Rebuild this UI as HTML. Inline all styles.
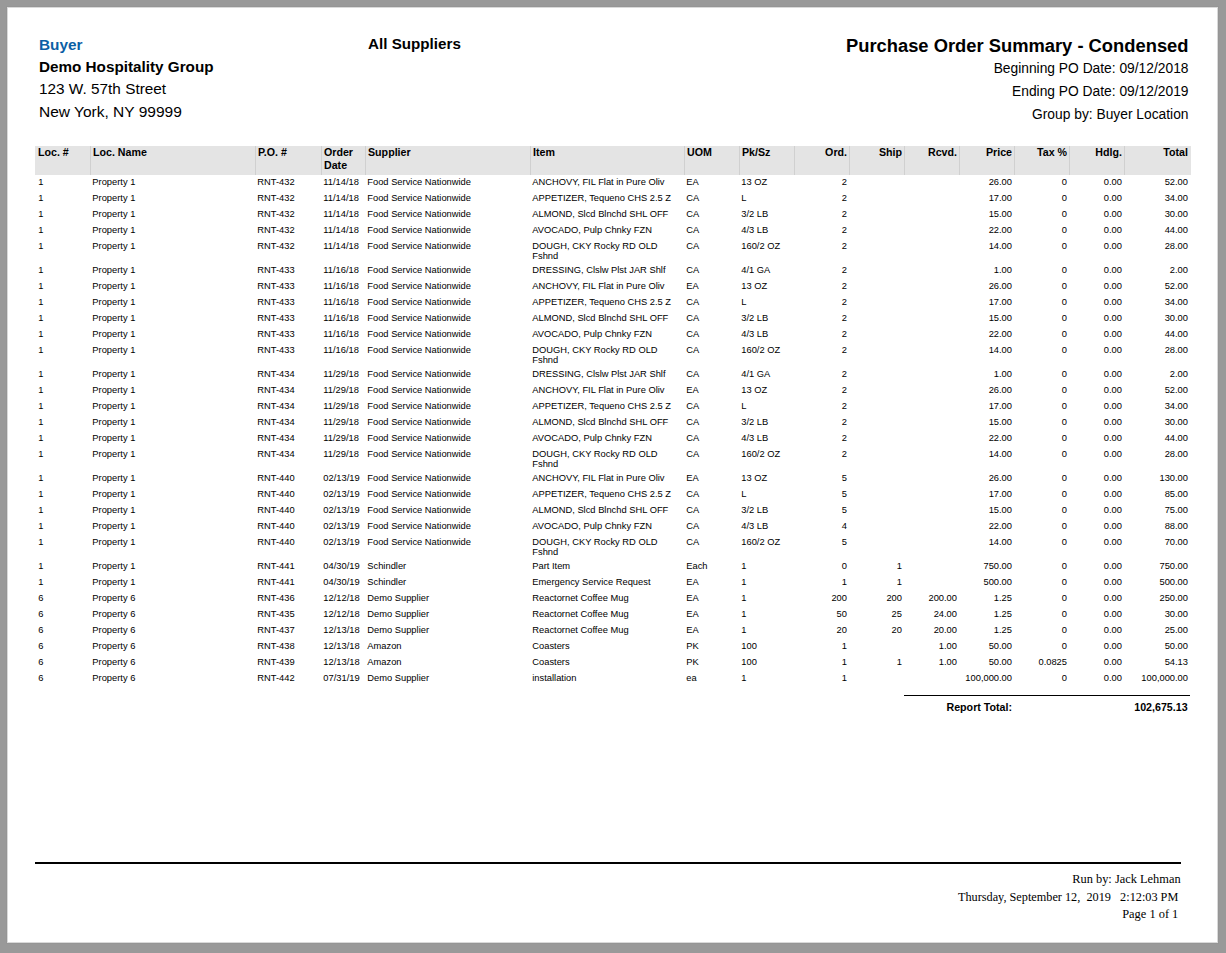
<!DOCTYPE html>
<html><head><meta charset="utf-8"><title>Purchase Order Summary - Condensed</title>
<style>
html,body{margin:0;padding:0;}
body{width:1226px;height:953px;background:#999999;position:relative;overflow:hidden;font-family:"Liberation Sans", sans-serif;color:#000;}
#fr1{position:absolute;left:6px;top:6px;width:1213px;height:938px;background:#959595;}
#fr2{position:absolute;left:7px;top:7px;width:1211px;height:936px;background:#d9d9d9;}
#page{position:absolute;left:8px;top:8px;width:1209px;height:934px;background:#fff;}
.t{position:absolute;white-space:nowrap;}
.f{font-family:"Liberation Serif", serif;}
.r{position:absolute;}
</style></head><body>
<div id="fr1"></div><div id="fr2"></div><div id="page"></div>
<div class="t" style="top:35.68px;font-size:15.35px;line-height:18px;font-weight:bold;color:#0b5fa5;left:39.00px;">Buyer</div>
<div class="t" style="top:57.72px;font-size:15.25px;line-height:18px;font-weight:bold;left:39.00px;">Demo Hospitality Group</div>
<div class="t" style="top:79.68px;font-size:15.35px;line-height:18px;left:39.00px;">123 W. 57th Street</div>
<div class="t" style="top:102.13px;font-size:15.5px;line-height:19px;left:39.00px;">New York, NY 99999</div>
<div class="t" style="top:34.73px;font-size:15.2px;line-height:18px;font-weight:bold;left:368.00px;">All Suppliers</div>
<div class="t" style="top:34.64px;font-size:18.35px;line-height:22px;font-weight:bold;right:37.50px;text-align:right;">Purchase Order Summary - Condensed</div>
<div class="t" style="top:59.72px;font-size:13.8px;line-height:17px;right:37.50px;text-align:right;">Beginning PO Date: 09/12/2018</div>
<div class="t" style="top:82.72px;font-size:13.8px;line-height:17px;right:37.50px;text-align:right;">Ending PO Date: 09/12/2019</div>
<div class="t" style="top:105.72px;font-size:13.8px;line-height:17px;right:37.50px;text-align:right;">Group by: Buyer Location</div>
<div class="r" style="left:35px;top:146px;width:1156px;height:29px;background:#e4e4e4"></div>
<div class="r" style="left:90px;top:146px;width:1px;height:29px;background:#d0d0d0"></div>
<div class="r" style="left:255px;top:146px;width:1px;height:29px;background:#d0d0d0"></div>
<div class="r" style="left:321px;top:146px;width:1px;height:29px;background:#d0d0d0"></div>
<div class="r" style="left:365px;top:146px;width:1px;height:29px;background:#d0d0d0"></div>
<div class="r" style="left:530px;top:146px;width:1px;height:29px;background:#d0d0d0"></div>
<div class="r" style="left:684px;top:146px;width:1px;height:29px;background:#d0d0d0"></div>
<div class="r" style="left:739px;top:146px;width:1px;height:29px;background:#d0d0d0"></div>
<div class="r" style="left:794px;top:146px;width:1px;height:29px;background:#d0d0d0"></div>
<div class="r" style="left:849px;top:146px;width:1px;height:29px;background:#d0d0d0"></div>
<div class="r" style="left:904px;top:146px;width:1px;height:29px;background:#d0d0d0"></div>
<div class="r" style="left:959px;top:146px;width:1px;height:29px;background:#d0d0d0"></div>
<div class="r" style="left:1014px;top:146px;width:1px;height:29px;background:#d0d0d0"></div>
<div class="r" style="left:1069px;top:146px;width:1px;height:29px;background:#d0d0d0"></div>
<div class="r" style="left:1124px;top:146px;width:1px;height:29px;background:#d0d0d0"></div>
<div class="t h" style="top:145.80px;font-size:10.67px;line-height:13px;font-weight:bold;left:38.00px;">Loc. #</div>
<div class="t h" style="top:145.80px;font-size:10.67px;line-height:13px;font-weight:bold;left:93.00px;">Loc. Name</div>
<div class="t h" style="top:145.80px;font-size:10.67px;line-height:13px;font-weight:bold;left:258.00px;">P.O. #</div>
<div class="t h" style="top:145.80px;font-size:10.67px;line-height:13px;font-weight:bold;left:324.00px;">Order</div>
<div class="t h" style="top:158.80px;font-size:10.67px;line-height:13px;font-weight:bold;left:324.00px;">Date</div>
<div class="t h" style="top:145.80px;font-size:10.67px;line-height:13px;font-weight:bold;left:368.00px;">Supplier</div>
<div class="t h" style="top:145.80px;font-size:10.67px;line-height:13px;font-weight:bold;left:533.00px;">Item</div>
<div class="t h" style="top:145.80px;font-size:10.67px;line-height:13px;font-weight:bold;left:687.00px;">UOM</div>
<div class="t h" style="top:145.80px;font-size:10.67px;line-height:13px;font-weight:bold;left:742.00px;">Pk/Sz</div>
<div class="t h" style="top:145.80px;font-size:10.67px;line-height:13px;font-weight:bold;right:379.00px;text-align:right;">Ord.</div>
<div class="t h" style="top:145.80px;font-size:10.67px;line-height:13px;font-weight:bold;right:324.00px;text-align:right;">Ship</div>
<div class="t h" style="top:145.80px;font-size:10.67px;line-height:13px;font-weight:bold;right:269.00px;text-align:right;">Rcvd.</div>
<div class="t h" style="top:145.80px;font-size:10.67px;line-height:13px;font-weight:bold;right:214.00px;text-align:right;">Price</div>
<div class="t h" style="top:145.80px;font-size:10.67px;line-height:13px;font-weight:bold;right:159.00px;text-align:right;">Tax %</div>
<div class="t h" style="top:145.80px;font-size:10.67px;line-height:13px;font-weight:bold;right:104.00px;text-align:right;">Hdlg.</div>
<div class="t h" style="top:145.80px;font-size:10.67px;line-height:13px;font-weight:bold;right:38.00px;text-align:right;">Total</div>
<div class="t d" style="top:177.27px;font-size:9.33px;line-height:11px;left:38.30px;">1</div>
<div class="t d" style="top:177.27px;font-size:9.33px;line-height:11px;left:92.30px;">Property 1</div>
<div class="t d" style="top:177.27px;font-size:9.33px;line-height:11px;left:257.30px;">RNT-432</div>
<div class="t d" style="top:177.27px;font-size:9.33px;line-height:11px;left:323.30px;">11/14/18</div>
<div class="t d" style="top:177.27px;font-size:9.33px;line-height:11px;left:367.30px;">Food Service Nationwide</div>
<div class="t d" style="top:177.27px;font-size:9.33px;line-height:11px;left:532.30px;">ANCHOVY, FIL Flat in Pure Oliv</div>
<div class="t d" style="top:177.27px;font-size:9.33px;line-height:11px;left:686.30px;">EA</div>
<div class="t d" style="top:177.27px;font-size:9.33px;line-height:11px;left:741.30px;">13 OZ</div>
<div class="t d" style="top:177.27px;font-size:9.33px;line-height:11px;right:379.00px;text-align:right;">2</div>
<div class="t d" style="top:177.27px;font-size:9.33px;line-height:11px;right:214.00px;text-align:right;">26.00</div>
<div class="t d" style="top:177.27px;font-size:9.33px;line-height:11px;right:159.00px;text-align:right;">0</div>
<div class="t d" style="top:177.27px;font-size:9.33px;line-height:11px;right:104.00px;text-align:right;">0.00</div>
<div class="t d" style="top:177.27px;font-size:9.33px;line-height:11px;right:38.00px;text-align:right;">52.00</div>
<div class="t d" style="top:193.27px;font-size:9.33px;line-height:11px;left:38.30px;">1</div>
<div class="t d" style="top:193.27px;font-size:9.33px;line-height:11px;left:92.30px;">Property 1</div>
<div class="t d" style="top:193.27px;font-size:9.33px;line-height:11px;left:257.30px;">RNT-432</div>
<div class="t d" style="top:193.27px;font-size:9.33px;line-height:11px;left:323.30px;">11/14/18</div>
<div class="t d" style="top:193.27px;font-size:9.33px;line-height:11px;left:367.30px;">Food Service Nationwide</div>
<div class="t d" style="top:193.27px;font-size:9.33px;line-height:11px;left:532.30px;">APPETIZER, Tequeno CHS 2.5 Z</div>
<div class="t d" style="top:193.27px;font-size:9.33px;line-height:11px;left:686.30px;">CA</div>
<div class="t d" style="top:193.27px;font-size:9.33px;line-height:11px;left:741.30px;">L</div>
<div class="t d" style="top:193.27px;font-size:9.33px;line-height:11px;right:379.00px;text-align:right;">2</div>
<div class="t d" style="top:193.27px;font-size:9.33px;line-height:11px;right:214.00px;text-align:right;">17.00</div>
<div class="t d" style="top:193.27px;font-size:9.33px;line-height:11px;right:159.00px;text-align:right;">0</div>
<div class="t d" style="top:193.27px;font-size:9.33px;line-height:11px;right:104.00px;text-align:right;">0.00</div>
<div class="t d" style="top:193.27px;font-size:9.33px;line-height:11px;right:38.00px;text-align:right;">34.00</div>
<div class="t d" style="top:209.27px;font-size:9.33px;line-height:11px;left:38.30px;">1</div>
<div class="t d" style="top:209.27px;font-size:9.33px;line-height:11px;left:92.30px;">Property 1</div>
<div class="t d" style="top:209.27px;font-size:9.33px;line-height:11px;left:257.30px;">RNT-432</div>
<div class="t d" style="top:209.27px;font-size:9.33px;line-height:11px;left:323.30px;">11/14/18</div>
<div class="t d" style="top:209.27px;font-size:9.33px;line-height:11px;left:367.30px;">Food Service Nationwide</div>
<div class="t d" style="top:209.27px;font-size:9.33px;line-height:11px;left:532.30px;">ALMOND, Slcd Blnchd SHL OFF</div>
<div class="t d" style="top:209.27px;font-size:9.33px;line-height:11px;left:686.30px;">CA</div>
<div class="t d" style="top:209.27px;font-size:9.33px;line-height:11px;left:741.30px;">3/2 LB</div>
<div class="t d" style="top:209.27px;font-size:9.33px;line-height:11px;right:379.00px;text-align:right;">2</div>
<div class="t d" style="top:209.27px;font-size:9.33px;line-height:11px;right:214.00px;text-align:right;">15.00</div>
<div class="t d" style="top:209.27px;font-size:9.33px;line-height:11px;right:159.00px;text-align:right;">0</div>
<div class="t d" style="top:209.27px;font-size:9.33px;line-height:11px;right:104.00px;text-align:right;">0.00</div>
<div class="t d" style="top:209.27px;font-size:9.33px;line-height:11px;right:38.00px;text-align:right;">30.00</div>
<div class="t d" style="top:225.27px;font-size:9.33px;line-height:11px;left:38.30px;">1</div>
<div class="t d" style="top:225.27px;font-size:9.33px;line-height:11px;left:92.30px;">Property 1</div>
<div class="t d" style="top:225.27px;font-size:9.33px;line-height:11px;left:257.30px;">RNT-432</div>
<div class="t d" style="top:225.27px;font-size:9.33px;line-height:11px;left:323.30px;">11/14/18</div>
<div class="t d" style="top:225.27px;font-size:9.33px;line-height:11px;left:367.30px;">Food Service Nationwide</div>
<div class="t d" style="top:225.27px;font-size:9.33px;line-height:11px;left:532.30px;">AVOCADO, Pulp Chnky FZN</div>
<div class="t d" style="top:225.27px;font-size:9.33px;line-height:11px;left:686.30px;">CA</div>
<div class="t d" style="top:225.27px;font-size:9.33px;line-height:11px;left:741.30px;">4/3 LB</div>
<div class="t d" style="top:225.27px;font-size:9.33px;line-height:11px;right:379.00px;text-align:right;">2</div>
<div class="t d" style="top:225.27px;font-size:9.33px;line-height:11px;right:214.00px;text-align:right;">22.00</div>
<div class="t d" style="top:225.27px;font-size:9.33px;line-height:11px;right:159.00px;text-align:right;">0</div>
<div class="t d" style="top:225.27px;font-size:9.33px;line-height:11px;right:104.00px;text-align:right;">0.00</div>
<div class="t d" style="top:225.27px;font-size:9.33px;line-height:11px;right:38.00px;text-align:right;">44.00</div>
<div class="t d" style="top:241.27px;font-size:9.33px;line-height:11px;left:38.30px;">1</div>
<div class="t d" style="top:241.27px;font-size:9.33px;line-height:11px;left:92.30px;">Property 1</div>
<div class="t d" style="top:241.27px;font-size:9.33px;line-height:11px;left:257.30px;">RNT-432</div>
<div class="t d" style="top:241.27px;font-size:9.33px;line-height:11px;left:323.30px;">11/14/18</div>
<div class="t d" style="top:241.27px;font-size:9.33px;line-height:11px;left:367.30px;">Food Service Nationwide</div>
<div class="t d" style="top:241.27px;font-size:9.33px;line-height:11px;left:532.30px;">DOUGH, CKY Rocky RD OLD</div>
<div class="t d" style="top:251.27px;font-size:9.33px;line-height:11px;left:532.30px;">Fshnd</div>
<div class="t d" style="top:241.27px;font-size:9.33px;line-height:11px;left:686.30px;">CA</div>
<div class="t d" style="top:241.27px;font-size:9.33px;line-height:11px;left:741.30px;">160/2 OZ</div>
<div class="t d" style="top:241.27px;font-size:9.33px;line-height:11px;right:379.00px;text-align:right;">2</div>
<div class="t d" style="top:241.27px;font-size:9.33px;line-height:11px;right:214.00px;text-align:right;">14.00</div>
<div class="t d" style="top:241.27px;font-size:9.33px;line-height:11px;right:159.00px;text-align:right;">0</div>
<div class="t d" style="top:241.27px;font-size:9.33px;line-height:11px;right:104.00px;text-align:right;">0.00</div>
<div class="t d" style="top:241.27px;font-size:9.33px;line-height:11px;right:38.00px;text-align:right;">28.00</div>
<div class="t d" style="top:265.27px;font-size:9.33px;line-height:11px;left:38.30px;">1</div>
<div class="t d" style="top:265.27px;font-size:9.33px;line-height:11px;left:92.30px;">Property 1</div>
<div class="t d" style="top:265.27px;font-size:9.33px;line-height:11px;left:257.30px;">RNT-433</div>
<div class="t d" style="top:265.27px;font-size:9.33px;line-height:11px;left:323.30px;">11/16/18</div>
<div class="t d" style="top:265.27px;font-size:9.33px;line-height:11px;left:367.30px;">Food Service Nationwide</div>
<div class="t d" style="top:265.27px;font-size:9.33px;line-height:11px;left:532.30px;">DRESSING, Clslw Plst JAR Shlf</div>
<div class="t d" style="top:265.27px;font-size:9.33px;line-height:11px;left:686.30px;">CA</div>
<div class="t d" style="top:265.27px;font-size:9.33px;line-height:11px;left:741.30px;">4/1 GA</div>
<div class="t d" style="top:265.27px;font-size:9.33px;line-height:11px;right:379.00px;text-align:right;">2</div>
<div class="t d" style="top:265.27px;font-size:9.33px;line-height:11px;right:214.00px;text-align:right;">1.00</div>
<div class="t d" style="top:265.27px;font-size:9.33px;line-height:11px;right:159.00px;text-align:right;">0</div>
<div class="t d" style="top:265.27px;font-size:9.33px;line-height:11px;right:104.00px;text-align:right;">0.00</div>
<div class="t d" style="top:265.27px;font-size:9.33px;line-height:11px;right:38.00px;text-align:right;">2.00</div>
<div class="t d" style="top:281.27px;font-size:9.33px;line-height:11px;left:38.30px;">1</div>
<div class="t d" style="top:281.27px;font-size:9.33px;line-height:11px;left:92.30px;">Property 1</div>
<div class="t d" style="top:281.27px;font-size:9.33px;line-height:11px;left:257.30px;">RNT-433</div>
<div class="t d" style="top:281.27px;font-size:9.33px;line-height:11px;left:323.30px;">11/16/18</div>
<div class="t d" style="top:281.27px;font-size:9.33px;line-height:11px;left:367.30px;">Food Service Nationwide</div>
<div class="t d" style="top:281.27px;font-size:9.33px;line-height:11px;left:532.30px;">ANCHOVY, FIL Flat in Pure Oliv</div>
<div class="t d" style="top:281.27px;font-size:9.33px;line-height:11px;left:686.30px;">EA</div>
<div class="t d" style="top:281.27px;font-size:9.33px;line-height:11px;left:741.30px;">13 OZ</div>
<div class="t d" style="top:281.27px;font-size:9.33px;line-height:11px;right:379.00px;text-align:right;">2</div>
<div class="t d" style="top:281.27px;font-size:9.33px;line-height:11px;right:214.00px;text-align:right;">26.00</div>
<div class="t d" style="top:281.27px;font-size:9.33px;line-height:11px;right:159.00px;text-align:right;">0</div>
<div class="t d" style="top:281.27px;font-size:9.33px;line-height:11px;right:104.00px;text-align:right;">0.00</div>
<div class="t d" style="top:281.27px;font-size:9.33px;line-height:11px;right:38.00px;text-align:right;">52.00</div>
<div class="t d" style="top:297.27px;font-size:9.33px;line-height:11px;left:38.30px;">1</div>
<div class="t d" style="top:297.27px;font-size:9.33px;line-height:11px;left:92.30px;">Property 1</div>
<div class="t d" style="top:297.27px;font-size:9.33px;line-height:11px;left:257.30px;">RNT-433</div>
<div class="t d" style="top:297.27px;font-size:9.33px;line-height:11px;left:323.30px;">11/16/18</div>
<div class="t d" style="top:297.27px;font-size:9.33px;line-height:11px;left:367.30px;">Food Service Nationwide</div>
<div class="t d" style="top:297.27px;font-size:9.33px;line-height:11px;left:532.30px;">APPETIZER, Tequeno CHS 2.5 Z</div>
<div class="t d" style="top:297.27px;font-size:9.33px;line-height:11px;left:686.30px;">CA</div>
<div class="t d" style="top:297.27px;font-size:9.33px;line-height:11px;left:741.30px;">L</div>
<div class="t d" style="top:297.27px;font-size:9.33px;line-height:11px;right:379.00px;text-align:right;">2</div>
<div class="t d" style="top:297.27px;font-size:9.33px;line-height:11px;right:214.00px;text-align:right;">17.00</div>
<div class="t d" style="top:297.27px;font-size:9.33px;line-height:11px;right:159.00px;text-align:right;">0</div>
<div class="t d" style="top:297.27px;font-size:9.33px;line-height:11px;right:104.00px;text-align:right;">0.00</div>
<div class="t d" style="top:297.27px;font-size:9.33px;line-height:11px;right:38.00px;text-align:right;">34.00</div>
<div class="t d" style="top:313.27px;font-size:9.33px;line-height:11px;left:38.30px;">1</div>
<div class="t d" style="top:313.27px;font-size:9.33px;line-height:11px;left:92.30px;">Property 1</div>
<div class="t d" style="top:313.27px;font-size:9.33px;line-height:11px;left:257.30px;">RNT-433</div>
<div class="t d" style="top:313.27px;font-size:9.33px;line-height:11px;left:323.30px;">11/16/18</div>
<div class="t d" style="top:313.27px;font-size:9.33px;line-height:11px;left:367.30px;">Food Service Nationwide</div>
<div class="t d" style="top:313.27px;font-size:9.33px;line-height:11px;left:532.30px;">ALMOND, Slcd Blnchd SHL OFF</div>
<div class="t d" style="top:313.27px;font-size:9.33px;line-height:11px;left:686.30px;">CA</div>
<div class="t d" style="top:313.27px;font-size:9.33px;line-height:11px;left:741.30px;">3/2 LB</div>
<div class="t d" style="top:313.27px;font-size:9.33px;line-height:11px;right:379.00px;text-align:right;">2</div>
<div class="t d" style="top:313.27px;font-size:9.33px;line-height:11px;right:214.00px;text-align:right;">15.00</div>
<div class="t d" style="top:313.27px;font-size:9.33px;line-height:11px;right:159.00px;text-align:right;">0</div>
<div class="t d" style="top:313.27px;font-size:9.33px;line-height:11px;right:104.00px;text-align:right;">0.00</div>
<div class="t d" style="top:313.27px;font-size:9.33px;line-height:11px;right:38.00px;text-align:right;">30.00</div>
<div class="t d" style="top:329.27px;font-size:9.33px;line-height:11px;left:38.30px;">1</div>
<div class="t d" style="top:329.27px;font-size:9.33px;line-height:11px;left:92.30px;">Property 1</div>
<div class="t d" style="top:329.27px;font-size:9.33px;line-height:11px;left:257.30px;">RNT-433</div>
<div class="t d" style="top:329.27px;font-size:9.33px;line-height:11px;left:323.30px;">11/16/18</div>
<div class="t d" style="top:329.27px;font-size:9.33px;line-height:11px;left:367.30px;">Food Service Nationwide</div>
<div class="t d" style="top:329.27px;font-size:9.33px;line-height:11px;left:532.30px;">AVOCADO, Pulp Chnky FZN</div>
<div class="t d" style="top:329.27px;font-size:9.33px;line-height:11px;left:686.30px;">CA</div>
<div class="t d" style="top:329.27px;font-size:9.33px;line-height:11px;left:741.30px;">4/3 LB</div>
<div class="t d" style="top:329.27px;font-size:9.33px;line-height:11px;right:379.00px;text-align:right;">2</div>
<div class="t d" style="top:329.27px;font-size:9.33px;line-height:11px;right:214.00px;text-align:right;">22.00</div>
<div class="t d" style="top:329.27px;font-size:9.33px;line-height:11px;right:159.00px;text-align:right;">0</div>
<div class="t d" style="top:329.27px;font-size:9.33px;line-height:11px;right:104.00px;text-align:right;">0.00</div>
<div class="t d" style="top:329.27px;font-size:9.33px;line-height:11px;right:38.00px;text-align:right;">44.00</div>
<div class="t d" style="top:345.27px;font-size:9.33px;line-height:11px;left:38.30px;">1</div>
<div class="t d" style="top:345.27px;font-size:9.33px;line-height:11px;left:92.30px;">Property 1</div>
<div class="t d" style="top:345.27px;font-size:9.33px;line-height:11px;left:257.30px;">RNT-433</div>
<div class="t d" style="top:345.27px;font-size:9.33px;line-height:11px;left:323.30px;">11/16/18</div>
<div class="t d" style="top:345.27px;font-size:9.33px;line-height:11px;left:367.30px;">Food Service Nationwide</div>
<div class="t d" style="top:345.27px;font-size:9.33px;line-height:11px;left:532.30px;">DOUGH, CKY Rocky RD OLD</div>
<div class="t d" style="top:355.27px;font-size:9.33px;line-height:11px;left:532.30px;">Fshnd</div>
<div class="t d" style="top:345.27px;font-size:9.33px;line-height:11px;left:686.30px;">CA</div>
<div class="t d" style="top:345.27px;font-size:9.33px;line-height:11px;left:741.30px;">160/2 OZ</div>
<div class="t d" style="top:345.27px;font-size:9.33px;line-height:11px;right:379.00px;text-align:right;">2</div>
<div class="t d" style="top:345.27px;font-size:9.33px;line-height:11px;right:214.00px;text-align:right;">14.00</div>
<div class="t d" style="top:345.27px;font-size:9.33px;line-height:11px;right:159.00px;text-align:right;">0</div>
<div class="t d" style="top:345.27px;font-size:9.33px;line-height:11px;right:104.00px;text-align:right;">0.00</div>
<div class="t d" style="top:345.27px;font-size:9.33px;line-height:11px;right:38.00px;text-align:right;">28.00</div>
<div class="t d" style="top:369.27px;font-size:9.33px;line-height:11px;left:38.30px;">1</div>
<div class="t d" style="top:369.27px;font-size:9.33px;line-height:11px;left:92.30px;">Property 1</div>
<div class="t d" style="top:369.27px;font-size:9.33px;line-height:11px;left:257.30px;">RNT-434</div>
<div class="t d" style="top:369.27px;font-size:9.33px;line-height:11px;left:323.30px;">11/29/18</div>
<div class="t d" style="top:369.27px;font-size:9.33px;line-height:11px;left:367.30px;">Food Service Nationwide</div>
<div class="t d" style="top:369.27px;font-size:9.33px;line-height:11px;left:532.30px;">DRESSING, Clslw Plst JAR Shlf</div>
<div class="t d" style="top:369.27px;font-size:9.33px;line-height:11px;left:686.30px;">CA</div>
<div class="t d" style="top:369.27px;font-size:9.33px;line-height:11px;left:741.30px;">4/1 GA</div>
<div class="t d" style="top:369.27px;font-size:9.33px;line-height:11px;right:379.00px;text-align:right;">2</div>
<div class="t d" style="top:369.27px;font-size:9.33px;line-height:11px;right:214.00px;text-align:right;">1.00</div>
<div class="t d" style="top:369.27px;font-size:9.33px;line-height:11px;right:159.00px;text-align:right;">0</div>
<div class="t d" style="top:369.27px;font-size:9.33px;line-height:11px;right:104.00px;text-align:right;">0.00</div>
<div class="t d" style="top:369.27px;font-size:9.33px;line-height:11px;right:38.00px;text-align:right;">2.00</div>
<div class="t d" style="top:385.27px;font-size:9.33px;line-height:11px;left:38.30px;">1</div>
<div class="t d" style="top:385.27px;font-size:9.33px;line-height:11px;left:92.30px;">Property 1</div>
<div class="t d" style="top:385.27px;font-size:9.33px;line-height:11px;left:257.30px;">RNT-434</div>
<div class="t d" style="top:385.27px;font-size:9.33px;line-height:11px;left:323.30px;">11/29/18</div>
<div class="t d" style="top:385.27px;font-size:9.33px;line-height:11px;left:367.30px;">Food Service Nationwide</div>
<div class="t d" style="top:385.27px;font-size:9.33px;line-height:11px;left:532.30px;">ANCHOVY, FIL Flat in Pure Oliv</div>
<div class="t d" style="top:385.27px;font-size:9.33px;line-height:11px;left:686.30px;">EA</div>
<div class="t d" style="top:385.27px;font-size:9.33px;line-height:11px;left:741.30px;">13 OZ</div>
<div class="t d" style="top:385.27px;font-size:9.33px;line-height:11px;right:379.00px;text-align:right;">2</div>
<div class="t d" style="top:385.27px;font-size:9.33px;line-height:11px;right:214.00px;text-align:right;">26.00</div>
<div class="t d" style="top:385.27px;font-size:9.33px;line-height:11px;right:159.00px;text-align:right;">0</div>
<div class="t d" style="top:385.27px;font-size:9.33px;line-height:11px;right:104.00px;text-align:right;">0.00</div>
<div class="t d" style="top:385.27px;font-size:9.33px;line-height:11px;right:38.00px;text-align:right;">52.00</div>
<div class="t d" style="top:401.27px;font-size:9.33px;line-height:11px;left:38.30px;">1</div>
<div class="t d" style="top:401.27px;font-size:9.33px;line-height:11px;left:92.30px;">Property 1</div>
<div class="t d" style="top:401.27px;font-size:9.33px;line-height:11px;left:257.30px;">RNT-434</div>
<div class="t d" style="top:401.27px;font-size:9.33px;line-height:11px;left:323.30px;">11/29/18</div>
<div class="t d" style="top:401.27px;font-size:9.33px;line-height:11px;left:367.30px;">Food Service Nationwide</div>
<div class="t d" style="top:401.27px;font-size:9.33px;line-height:11px;left:532.30px;">APPETIZER, Tequeno CHS 2.5 Z</div>
<div class="t d" style="top:401.27px;font-size:9.33px;line-height:11px;left:686.30px;">CA</div>
<div class="t d" style="top:401.27px;font-size:9.33px;line-height:11px;left:741.30px;">L</div>
<div class="t d" style="top:401.27px;font-size:9.33px;line-height:11px;right:379.00px;text-align:right;">2</div>
<div class="t d" style="top:401.27px;font-size:9.33px;line-height:11px;right:214.00px;text-align:right;">17.00</div>
<div class="t d" style="top:401.27px;font-size:9.33px;line-height:11px;right:159.00px;text-align:right;">0</div>
<div class="t d" style="top:401.27px;font-size:9.33px;line-height:11px;right:104.00px;text-align:right;">0.00</div>
<div class="t d" style="top:401.27px;font-size:9.33px;line-height:11px;right:38.00px;text-align:right;">34.00</div>
<div class="t d" style="top:417.27px;font-size:9.33px;line-height:11px;left:38.30px;">1</div>
<div class="t d" style="top:417.27px;font-size:9.33px;line-height:11px;left:92.30px;">Property 1</div>
<div class="t d" style="top:417.27px;font-size:9.33px;line-height:11px;left:257.30px;">RNT-434</div>
<div class="t d" style="top:417.27px;font-size:9.33px;line-height:11px;left:323.30px;">11/29/18</div>
<div class="t d" style="top:417.27px;font-size:9.33px;line-height:11px;left:367.30px;">Food Service Nationwide</div>
<div class="t d" style="top:417.27px;font-size:9.33px;line-height:11px;left:532.30px;">ALMOND, Slcd Blnchd SHL OFF</div>
<div class="t d" style="top:417.27px;font-size:9.33px;line-height:11px;left:686.30px;">CA</div>
<div class="t d" style="top:417.27px;font-size:9.33px;line-height:11px;left:741.30px;">3/2 LB</div>
<div class="t d" style="top:417.27px;font-size:9.33px;line-height:11px;right:379.00px;text-align:right;">2</div>
<div class="t d" style="top:417.27px;font-size:9.33px;line-height:11px;right:214.00px;text-align:right;">15.00</div>
<div class="t d" style="top:417.27px;font-size:9.33px;line-height:11px;right:159.00px;text-align:right;">0</div>
<div class="t d" style="top:417.27px;font-size:9.33px;line-height:11px;right:104.00px;text-align:right;">0.00</div>
<div class="t d" style="top:417.27px;font-size:9.33px;line-height:11px;right:38.00px;text-align:right;">30.00</div>
<div class="t d" style="top:433.27px;font-size:9.33px;line-height:11px;left:38.30px;">1</div>
<div class="t d" style="top:433.27px;font-size:9.33px;line-height:11px;left:92.30px;">Property 1</div>
<div class="t d" style="top:433.27px;font-size:9.33px;line-height:11px;left:257.30px;">RNT-434</div>
<div class="t d" style="top:433.27px;font-size:9.33px;line-height:11px;left:323.30px;">11/29/18</div>
<div class="t d" style="top:433.27px;font-size:9.33px;line-height:11px;left:367.30px;">Food Service Nationwide</div>
<div class="t d" style="top:433.27px;font-size:9.33px;line-height:11px;left:532.30px;">AVOCADO, Pulp Chnky FZN</div>
<div class="t d" style="top:433.27px;font-size:9.33px;line-height:11px;left:686.30px;">CA</div>
<div class="t d" style="top:433.27px;font-size:9.33px;line-height:11px;left:741.30px;">4/3 LB</div>
<div class="t d" style="top:433.27px;font-size:9.33px;line-height:11px;right:379.00px;text-align:right;">2</div>
<div class="t d" style="top:433.27px;font-size:9.33px;line-height:11px;right:214.00px;text-align:right;">22.00</div>
<div class="t d" style="top:433.27px;font-size:9.33px;line-height:11px;right:159.00px;text-align:right;">0</div>
<div class="t d" style="top:433.27px;font-size:9.33px;line-height:11px;right:104.00px;text-align:right;">0.00</div>
<div class="t d" style="top:433.27px;font-size:9.33px;line-height:11px;right:38.00px;text-align:right;">44.00</div>
<div class="t d" style="top:449.27px;font-size:9.33px;line-height:11px;left:38.30px;">1</div>
<div class="t d" style="top:449.27px;font-size:9.33px;line-height:11px;left:92.30px;">Property 1</div>
<div class="t d" style="top:449.27px;font-size:9.33px;line-height:11px;left:257.30px;">RNT-434</div>
<div class="t d" style="top:449.27px;font-size:9.33px;line-height:11px;left:323.30px;">11/29/18</div>
<div class="t d" style="top:449.27px;font-size:9.33px;line-height:11px;left:367.30px;">Food Service Nationwide</div>
<div class="t d" style="top:449.27px;font-size:9.33px;line-height:11px;left:532.30px;">DOUGH, CKY Rocky RD OLD</div>
<div class="t d" style="top:459.27px;font-size:9.33px;line-height:11px;left:532.30px;">Fshnd</div>
<div class="t d" style="top:449.27px;font-size:9.33px;line-height:11px;left:686.30px;">CA</div>
<div class="t d" style="top:449.27px;font-size:9.33px;line-height:11px;left:741.30px;">160/2 OZ</div>
<div class="t d" style="top:449.27px;font-size:9.33px;line-height:11px;right:379.00px;text-align:right;">2</div>
<div class="t d" style="top:449.27px;font-size:9.33px;line-height:11px;right:214.00px;text-align:right;">14.00</div>
<div class="t d" style="top:449.27px;font-size:9.33px;line-height:11px;right:159.00px;text-align:right;">0</div>
<div class="t d" style="top:449.27px;font-size:9.33px;line-height:11px;right:104.00px;text-align:right;">0.00</div>
<div class="t d" style="top:449.27px;font-size:9.33px;line-height:11px;right:38.00px;text-align:right;">28.00</div>
<div class="t d" style="top:473.27px;font-size:9.33px;line-height:11px;left:38.30px;">1</div>
<div class="t d" style="top:473.27px;font-size:9.33px;line-height:11px;left:92.30px;">Property 1</div>
<div class="t d" style="top:473.27px;font-size:9.33px;line-height:11px;left:257.30px;">RNT-440</div>
<div class="t d" style="top:473.27px;font-size:9.33px;line-height:11px;left:323.30px;">02/13/19</div>
<div class="t d" style="top:473.27px;font-size:9.33px;line-height:11px;left:367.30px;">Food Service Nationwide</div>
<div class="t d" style="top:473.27px;font-size:9.33px;line-height:11px;left:532.30px;">ANCHOVY, FIL Flat in Pure Oliv</div>
<div class="t d" style="top:473.27px;font-size:9.33px;line-height:11px;left:686.30px;">EA</div>
<div class="t d" style="top:473.27px;font-size:9.33px;line-height:11px;left:741.30px;">13 OZ</div>
<div class="t d" style="top:473.27px;font-size:9.33px;line-height:11px;right:379.00px;text-align:right;">5</div>
<div class="t d" style="top:473.27px;font-size:9.33px;line-height:11px;right:214.00px;text-align:right;">26.00</div>
<div class="t d" style="top:473.27px;font-size:9.33px;line-height:11px;right:159.00px;text-align:right;">0</div>
<div class="t d" style="top:473.27px;font-size:9.33px;line-height:11px;right:104.00px;text-align:right;">0.00</div>
<div class="t d" style="top:473.27px;font-size:9.33px;line-height:11px;right:38.00px;text-align:right;">130.00</div>
<div class="t d" style="top:489.27px;font-size:9.33px;line-height:11px;left:38.30px;">1</div>
<div class="t d" style="top:489.27px;font-size:9.33px;line-height:11px;left:92.30px;">Property 1</div>
<div class="t d" style="top:489.27px;font-size:9.33px;line-height:11px;left:257.30px;">RNT-440</div>
<div class="t d" style="top:489.27px;font-size:9.33px;line-height:11px;left:323.30px;">02/13/19</div>
<div class="t d" style="top:489.27px;font-size:9.33px;line-height:11px;left:367.30px;">Food Service Nationwide</div>
<div class="t d" style="top:489.27px;font-size:9.33px;line-height:11px;left:532.30px;">APPETIZER, Tequeno CHS 2.5 Z</div>
<div class="t d" style="top:489.27px;font-size:9.33px;line-height:11px;left:686.30px;">CA</div>
<div class="t d" style="top:489.27px;font-size:9.33px;line-height:11px;left:741.30px;">L</div>
<div class="t d" style="top:489.27px;font-size:9.33px;line-height:11px;right:379.00px;text-align:right;">5</div>
<div class="t d" style="top:489.27px;font-size:9.33px;line-height:11px;right:214.00px;text-align:right;">17.00</div>
<div class="t d" style="top:489.27px;font-size:9.33px;line-height:11px;right:159.00px;text-align:right;">0</div>
<div class="t d" style="top:489.27px;font-size:9.33px;line-height:11px;right:104.00px;text-align:right;">0.00</div>
<div class="t d" style="top:489.27px;font-size:9.33px;line-height:11px;right:38.00px;text-align:right;">85.00</div>
<div class="t d" style="top:505.27px;font-size:9.33px;line-height:11px;left:38.30px;">1</div>
<div class="t d" style="top:505.27px;font-size:9.33px;line-height:11px;left:92.30px;">Property 1</div>
<div class="t d" style="top:505.27px;font-size:9.33px;line-height:11px;left:257.30px;">RNT-440</div>
<div class="t d" style="top:505.27px;font-size:9.33px;line-height:11px;left:323.30px;">02/13/19</div>
<div class="t d" style="top:505.27px;font-size:9.33px;line-height:11px;left:367.30px;">Food Service Nationwide</div>
<div class="t d" style="top:505.27px;font-size:9.33px;line-height:11px;left:532.30px;">ALMOND, Slcd Blnchd SHL OFF</div>
<div class="t d" style="top:505.27px;font-size:9.33px;line-height:11px;left:686.30px;">CA</div>
<div class="t d" style="top:505.27px;font-size:9.33px;line-height:11px;left:741.30px;">3/2 LB</div>
<div class="t d" style="top:505.27px;font-size:9.33px;line-height:11px;right:379.00px;text-align:right;">5</div>
<div class="t d" style="top:505.27px;font-size:9.33px;line-height:11px;right:214.00px;text-align:right;">15.00</div>
<div class="t d" style="top:505.27px;font-size:9.33px;line-height:11px;right:159.00px;text-align:right;">0</div>
<div class="t d" style="top:505.27px;font-size:9.33px;line-height:11px;right:104.00px;text-align:right;">0.00</div>
<div class="t d" style="top:505.27px;font-size:9.33px;line-height:11px;right:38.00px;text-align:right;">75.00</div>
<div class="t d" style="top:521.27px;font-size:9.33px;line-height:11px;left:38.30px;">1</div>
<div class="t d" style="top:521.27px;font-size:9.33px;line-height:11px;left:92.30px;">Property 1</div>
<div class="t d" style="top:521.27px;font-size:9.33px;line-height:11px;left:257.30px;">RNT-440</div>
<div class="t d" style="top:521.27px;font-size:9.33px;line-height:11px;left:323.30px;">02/13/19</div>
<div class="t d" style="top:521.27px;font-size:9.33px;line-height:11px;left:367.30px;">Food Service Nationwide</div>
<div class="t d" style="top:521.27px;font-size:9.33px;line-height:11px;left:532.30px;">AVOCADO, Pulp Chnky FZN</div>
<div class="t d" style="top:521.27px;font-size:9.33px;line-height:11px;left:686.30px;">CA</div>
<div class="t d" style="top:521.27px;font-size:9.33px;line-height:11px;left:741.30px;">4/3 LB</div>
<div class="t d" style="top:521.27px;font-size:9.33px;line-height:11px;right:379.00px;text-align:right;">4</div>
<div class="t d" style="top:521.27px;font-size:9.33px;line-height:11px;right:214.00px;text-align:right;">22.00</div>
<div class="t d" style="top:521.27px;font-size:9.33px;line-height:11px;right:159.00px;text-align:right;">0</div>
<div class="t d" style="top:521.27px;font-size:9.33px;line-height:11px;right:104.00px;text-align:right;">0.00</div>
<div class="t d" style="top:521.27px;font-size:9.33px;line-height:11px;right:38.00px;text-align:right;">88.00</div>
<div class="t d" style="top:537.27px;font-size:9.33px;line-height:11px;left:38.30px;">1</div>
<div class="t d" style="top:537.27px;font-size:9.33px;line-height:11px;left:92.30px;">Property 1</div>
<div class="t d" style="top:537.27px;font-size:9.33px;line-height:11px;left:257.30px;">RNT-440</div>
<div class="t d" style="top:537.27px;font-size:9.33px;line-height:11px;left:323.30px;">02/13/19</div>
<div class="t d" style="top:537.27px;font-size:9.33px;line-height:11px;left:367.30px;">Food Service Nationwide</div>
<div class="t d" style="top:537.27px;font-size:9.33px;line-height:11px;left:532.30px;">DOUGH, CKY Rocky RD OLD</div>
<div class="t d" style="top:547.27px;font-size:9.33px;line-height:11px;left:532.30px;">Fshnd</div>
<div class="t d" style="top:537.27px;font-size:9.33px;line-height:11px;left:686.30px;">CA</div>
<div class="t d" style="top:537.27px;font-size:9.33px;line-height:11px;left:741.30px;">160/2 OZ</div>
<div class="t d" style="top:537.27px;font-size:9.33px;line-height:11px;right:379.00px;text-align:right;">5</div>
<div class="t d" style="top:537.27px;font-size:9.33px;line-height:11px;right:214.00px;text-align:right;">14.00</div>
<div class="t d" style="top:537.27px;font-size:9.33px;line-height:11px;right:159.00px;text-align:right;">0</div>
<div class="t d" style="top:537.27px;font-size:9.33px;line-height:11px;right:104.00px;text-align:right;">0.00</div>
<div class="t d" style="top:537.27px;font-size:9.33px;line-height:11px;right:38.00px;text-align:right;">70.00</div>
<div class="t d" style="top:561.27px;font-size:9.33px;line-height:11px;left:38.30px;">1</div>
<div class="t d" style="top:561.27px;font-size:9.33px;line-height:11px;left:92.30px;">Property 1</div>
<div class="t d" style="top:561.27px;font-size:9.33px;line-height:11px;left:257.30px;">RNT-441</div>
<div class="t d" style="top:561.27px;font-size:9.33px;line-height:11px;left:323.30px;">04/30/19</div>
<div class="t d" style="top:561.27px;font-size:9.33px;line-height:11px;left:367.30px;">Schindler</div>
<div class="t d" style="top:561.27px;font-size:9.33px;line-height:11px;left:532.30px;">Part Item</div>
<div class="t d" style="top:561.27px;font-size:9.33px;line-height:11px;left:686.30px;">Each</div>
<div class="t d" style="top:561.27px;font-size:9.33px;line-height:11px;left:741.30px;">1</div>
<div class="t d" style="top:561.27px;font-size:9.33px;line-height:11px;right:379.00px;text-align:right;">0</div>
<div class="t d" style="top:561.27px;font-size:9.33px;line-height:11px;right:324.00px;text-align:right;">1</div>
<div class="t d" style="top:561.27px;font-size:9.33px;line-height:11px;right:214.00px;text-align:right;">750.00</div>
<div class="t d" style="top:561.27px;font-size:9.33px;line-height:11px;right:159.00px;text-align:right;">0</div>
<div class="t d" style="top:561.27px;font-size:9.33px;line-height:11px;right:104.00px;text-align:right;">0.00</div>
<div class="t d" style="top:561.27px;font-size:9.33px;line-height:11px;right:38.00px;text-align:right;">750.00</div>
<div class="t d" style="top:577.27px;font-size:9.33px;line-height:11px;left:38.30px;">1</div>
<div class="t d" style="top:577.27px;font-size:9.33px;line-height:11px;left:92.30px;">Property 1</div>
<div class="t d" style="top:577.27px;font-size:9.33px;line-height:11px;left:257.30px;">RNT-441</div>
<div class="t d" style="top:577.27px;font-size:9.33px;line-height:11px;left:323.30px;">04/30/19</div>
<div class="t d" style="top:577.27px;font-size:9.33px;line-height:11px;left:367.30px;">Schindler</div>
<div class="t d" style="top:577.27px;font-size:9.33px;line-height:11px;left:532.30px;">Emergency Service Request</div>
<div class="t d" style="top:577.27px;font-size:9.33px;line-height:11px;left:686.30px;">EA</div>
<div class="t d" style="top:577.27px;font-size:9.33px;line-height:11px;left:741.30px;">1</div>
<div class="t d" style="top:577.27px;font-size:9.33px;line-height:11px;right:379.00px;text-align:right;">1</div>
<div class="t d" style="top:577.27px;font-size:9.33px;line-height:11px;right:324.00px;text-align:right;">1</div>
<div class="t d" style="top:577.27px;font-size:9.33px;line-height:11px;right:214.00px;text-align:right;">500.00</div>
<div class="t d" style="top:577.27px;font-size:9.33px;line-height:11px;right:159.00px;text-align:right;">0</div>
<div class="t d" style="top:577.27px;font-size:9.33px;line-height:11px;right:104.00px;text-align:right;">0.00</div>
<div class="t d" style="top:577.27px;font-size:9.33px;line-height:11px;right:38.00px;text-align:right;">500.00</div>
<div class="t d" style="top:593.27px;font-size:9.33px;line-height:11px;left:38.30px;">6</div>
<div class="t d" style="top:593.27px;font-size:9.33px;line-height:11px;left:92.30px;">Property 6</div>
<div class="t d" style="top:593.27px;font-size:9.33px;line-height:11px;left:257.30px;">RNT-436</div>
<div class="t d" style="top:593.27px;font-size:9.33px;line-height:11px;left:323.30px;">12/12/18</div>
<div class="t d" style="top:593.27px;font-size:9.33px;line-height:11px;left:367.30px;">Demo Supplier</div>
<div class="t d" style="top:593.27px;font-size:9.33px;line-height:11px;left:532.30px;">Reactornet Coffee Mug</div>
<div class="t d" style="top:593.27px;font-size:9.33px;line-height:11px;left:686.30px;">EA</div>
<div class="t d" style="top:593.27px;font-size:9.33px;line-height:11px;left:741.30px;">1</div>
<div class="t d" style="top:593.27px;font-size:9.33px;line-height:11px;right:379.00px;text-align:right;">200</div>
<div class="t d" style="top:593.27px;font-size:9.33px;line-height:11px;right:324.00px;text-align:right;">200</div>
<div class="t d" style="top:593.27px;font-size:9.33px;line-height:11px;right:269.00px;text-align:right;">200.00</div>
<div class="t d" style="top:593.27px;font-size:9.33px;line-height:11px;right:214.00px;text-align:right;">1.25</div>
<div class="t d" style="top:593.27px;font-size:9.33px;line-height:11px;right:159.00px;text-align:right;">0</div>
<div class="t d" style="top:593.27px;font-size:9.33px;line-height:11px;right:104.00px;text-align:right;">0.00</div>
<div class="t d" style="top:593.27px;font-size:9.33px;line-height:11px;right:38.00px;text-align:right;">250.00</div>
<div class="t d" style="top:609.27px;font-size:9.33px;line-height:11px;left:38.30px;">6</div>
<div class="t d" style="top:609.27px;font-size:9.33px;line-height:11px;left:92.30px;">Property 6</div>
<div class="t d" style="top:609.27px;font-size:9.33px;line-height:11px;left:257.30px;">RNT-435</div>
<div class="t d" style="top:609.27px;font-size:9.33px;line-height:11px;left:323.30px;">12/12/18</div>
<div class="t d" style="top:609.27px;font-size:9.33px;line-height:11px;left:367.30px;">Demo Supplier</div>
<div class="t d" style="top:609.27px;font-size:9.33px;line-height:11px;left:532.30px;">Reactornet Coffee Mug</div>
<div class="t d" style="top:609.27px;font-size:9.33px;line-height:11px;left:686.30px;">EA</div>
<div class="t d" style="top:609.27px;font-size:9.33px;line-height:11px;left:741.30px;">1</div>
<div class="t d" style="top:609.27px;font-size:9.33px;line-height:11px;right:379.00px;text-align:right;">50</div>
<div class="t d" style="top:609.27px;font-size:9.33px;line-height:11px;right:324.00px;text-align:right;">25</div>
<div class="t d" style="top:609.27px;font-size:9.33px;line-height:11px;right:269.00px;text-align:right;">24.00</div>
<div class="t d" style="top:609.27px;font-size:9.33px;line-height:11px;right:214.00px;text-align:right;">1.25</div>
<div class="t d" style="top:609.27px;font-size:9.33px;line-height:11px;right:159.00px;text-align:right;">0</div>
<div class="t d" style="top:609.27px;font-size:9.33px;line-height:11px;right:104.00px;text-align:right;">0.00</div>
<div class="t d" style="top:609.27px;font-size:9.33px;line-height:11px;right:38.00px;text-align:right;">30.00</div>
<div class="t d" style="top:625.27px;font-size:9.33px;line-height:11px;left:38.30px;">6</div>
<div class="t d" style="top:625.27px;font-size:9.33px;line-height:11px;left:92.30px;">Property 6</div>
<div class="t d" style="top:625.27px;font-size:9.33px;line-height:11px;left:257.30px;">RNT-437</div>
<div class="t d" style="top:625.27px;font-size:9.33px;line-height:11px;left:323.30px;">12/13/18</div>
<div class="t d" style="top:625.27px;font-size:9.33px;line-height:11px;left:367.30px;">Demo Supplier</div>
<div class="t d" style="top:625.27px;font-size:9.33px;line-height:11px;left:532.30px;">Reactornet Coffee Mug</div>
<div class="t d" style="top:625.27px;font-size:9.33px;line-height:11px;left:686.30px;">EA</div>
<div class="t d" style="top:625.27px;font-size:9.33px;line-height:11px;left:741.30px;">1</div>
<div class="t d" style="top:625.27px;font-size:9.33px;line-height:11px;right:379.00px;text-align:right;">20</div>
<div class="t d" style="top:625.27px;font-size:9.33px;line-height:11px;right:324.00px;text-align:right;">20</div>
<div class="t d" style="top:625.27px;font-size:9.33px;line-height:11px;right:269.00px;text-align:right;">20.00</div>
<div class="t d" style="top:625.27px;font-size:9.33px;line-height:11px;right:214.00px;text-align:right;">1.25</div>
<div class="t d" style="top:625.27px;font-size:9.33px;line-height:11px;right:159.00px;text-align:right;">0</div>
<div class="t d" style="top:625.27px;font-size:9.33px;line-height:11px;right:104.00px;text-align:right;">0.00</div>
<div class="t d" style="top:625.27px;font-size:9.33px;line-height:11px;right:38.00px;text-align:right;">25.00</div>
<div class="t d" style="top:641.27px;font-size:9.33px;line-height:11px;left:38.30px;">6</div>
<div class="t d" style="top:641.27px;font-size:9.33px;line-height:11px;left:92.30px;">Property 6</div>
<div class="t d" style="top:641.27px;font-size:9.33px;line-height:11px;left:257.30px;">RNT-438</div>
<div class="t d" style="top:641.27px;font-size:9.33px;line-height:11px;left:323.30px;">12/13/18</div>
<div class="t d" style="top:641.27px;font-size:9.33px;line-height:11px;left:367.30px;">Amazon</div>
<div class="t d" style="top:641.27px;font-size:9.33px;line-height:11px;left:532.30px;">Coasters</div>
<div class="t d" style="top:641.27px;font-size:9.33px;line-height:11px;left:686.30px;">PK</div>
<div class="t d" style="top:641.27px;font-size:9.33px;line-height:11px;left:741.30px;">100</div>
<div class="t d" style="top:641.27px;font-size:9.33px;line-height:11px;right:379.00px;text-align:right;">1</div>
<div class="t d" style="top:641.27px;font-size:9.33px;line-height:11px;right:269.00px;text-align:right;">1.00</div>
<div class="t d" style="top:641.27px;font-size:9.33px;line-height:11px;right:214.00px;text-align:right;">50.00</div>
<div class="t d" style="top:641.27px;font-size:9.33px;line-height:11px;right:159.00px;text-align:right;">0</div>
<div class="t d" style="top:641.27px;font-size:9.33px;line-height:11px;right:104.00px;text-align:right;">0.00</div>
<div class="t d" style="top:641.27px;font-size:9.33px;line-height:11px;right:38.00px;text-align:right;">50.00</div>
<div class="t d" style="top:657.27px;font-size:9.33px;line-height:11px;left:38.30px;">6</div>
<div class="t d" style="top:657.27px;font-size:9.33px;line-height:11px;left:92.30px;">Property 6</div>
<div class="t d" style="top:657.27px;font-size:9.33px;line-height:11px;left:257.30px;">RNT-439</div>
<div class="t d" style="top:657.27px;font-size:9.33px;line-height:11px;left:323.30px;">12/13/18</div>
<div class="t d" style="top:657.27px;font-size:9.33px;line-height:11px;left:367.30px;">Amazon</div>
<div class="t d" style="top:657.27px;font-size:9.33px;line-height:11px;left:532.30px;">Coasters</div>
<div class="t d" style="top:657.27px;font-size:9.33px;line-height:11px;left:686.30px;">PK</div>
<div class="t d" style="top:657.27px;font-size:9.33px;line-height:11px;left:741.30px;">100</div>
<div class="t d" style="top:657.27px;font-size:9.33px;line-height:11px;right:379.00px;text-align:right;">1</div>
<div class="t d" style="top:657.27px;font-size:9.33px;line-height:11px;right:324.00px;text-align:right;">1</div>
<div class="t d" style="top:657.27px;font-size:9.33px;line-height:11px;right:269.00px;text-align:right;">1.00</div>
<div class="t d" style="top:657.27px;font-size:9.33px;line-height:11px;right:214.00px;text-align:right;">50.00</div>
<div class="t d" style="top:657.27px;font-size:9.33px;line-height:11px;right:159.00px;text-align:right;">0.0825</div>
<div class="t d" style="top:657.27px;font-size:9.33px;line-height:11px;right:104.00px;text-align:right;">0.00</div>
<div class="t d" style="top:657.27px;font-size:9.33px;line-height:11px;right:38.00px;text-align:right;">54.13</div>
<div class="t d" style="top:673.27px;font-size:9.33px;line-height:11px;left:38.30px;">6</div>
<div class="t d" style="top:673.27px;font-size:9.33px;line-height:11px;left:92.30px;">Property 6</div>
<div class="t d" style="top:673.27px;font-size:9.33px;line-height:11px;left:257.30px;">RNT-442</div>
<div class="t d" style="top:673.27px;font-size:9.33px;line-height:11px;left:323.30px;">07/31/19</div>
<div class="t d" style="top:673.27px;font-size:9.33px;line-height:11px;left:367.30px;">Demo Supplier</div>
<div class="t d" style="top:673.27px;font-size:9.33px;line-height:11px;left:532.30px;">installation</div>
<div class="t d" style="top:673.27px;font-size:9.33px;line-height:11px;left:686.30px;">ea</div>
<div class="t d" style="top:673.27px;font-size:9.33px;line-height:11px;left:741.30px;">1</div>
<div class="t d" style="top:673.27px;font-size:9.33px;line-height:11px;right:379.00px;text-align:right;">1</div>
<div class="t d" style="top:673.27px;font-size:9.33px;line-height:11px;right:214.00px;text-align:right;">100,000.00</div>
<div class="t d" style="top:673.27px;font-size:9.33px;line-height:11px;right:159.00px;text-align:right;">0</div>
<div class="t d" style="top:673.27px;font-size:9.33px;line-height:11px;right:104.00px;text-align:right;">0.00</div>
<div class="t d" style="top:673.27px;font-size:9.33px;line-height:11px;right:38.00px;text-align:right;">100,000.00</div>
<div class="r" style="left:904px;top:695px;width:286px;height:1px;background:#000"></div>
<div class="t" style="top:700.80px;font-size:10.67px;line-height:13px;font-weight:bold;right:214.00px;text-align:right;">Report Total:</div>
<div class="t" style="top:700.80px;font-size:10.67px;line-height:13px;font-weight:bold;right:38.40px;text-align:right;">102,675.13</div>
<div class="r" style="left:35px;top:862px;width:1146px;height:2px;background:#000"></div>
<div class="t f" style="top:872.32px;font-size:12.4px;line-height:15px;right:45.40px;text-align:right;">Run by: Jack Lehman</div>
<div class="t f" style="top:890.37px;font-size:12.25px;line-height:15px;right:47.70px;text-align:right;white-space:pre;">Thursday, September 12,  2019   2:12:03 PM</div>
<div class="t f" style="top:907.32px;font-size:12.4px;line-height:15px;right:47.70px;text-align:right;">Page 1 of 1</div>
</body></html>
